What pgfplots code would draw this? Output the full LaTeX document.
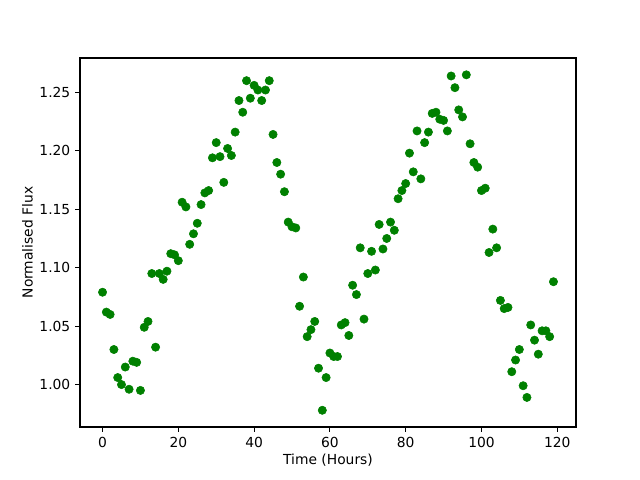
\documentclass[border=0pt]{standalone}
\usepackage{pgfplots}
\pgfplotsset{compat=1.18}
\usepackage{fontspec}
\setmainfont{DejaVu Sans}
\definecolor{mplgreen}{rgb}{0,0.5,0}
\begin{document}
\begin{tikzpicture}
\path[use as bounding box] (-0.80in,-0.53in) rectangle (5.60in,4.27in);
\begin{axis}[
  at={(0,0)}, anchor=south west,
  scale only axis, width=4.96in, height=3.69in,
  xmin=-5.95, xmax=124.95, ymin=0.9637, ymax=1.2794,
  xtick={0,20,40,60,80,100,120},
  ytick={1.00,1.05,1.10,1.15,1.20,1.25},
  yticklabel style={/pgf/number format/.cd, fixed, fixed zerofill, precision=2},
  /pgf/number format/assume math mode=true,
  tick align=outside, tick pos=left,
  major tick length=3.5pt,
  every tick/.style={black, line width=0.8pt},
  axis line style={line width=0.8pt},
  ticklabel style={font=\fontsize{10}{12}\selectfont},
  label style={font=\fontsize{10}{12}\selectfont},
  xlabel={Time (Hours)}, ylabel={Normalised Flux},
  xlabel style={yshift=2pt},
  ylabel style={yshift=-2pt},
]
\addplot[only marks, mark=*, mark size=3pt, color=mplgreen, mark options={draw=mplgreen, fill=mplgreen}] table {
x y
0 1.079
1 1.062
2 1.060
3 1.030
4 1.006
5 1.000
6 1.015
7 0.996
8 1.020
9 1.019
10 0.995
11 1.049
12 1.054
13 1.095
14 1.032
15 1.095
16 1.090
17 1.097
18 1.112
19 1.111
20 1.106
21 1.156
22 1.152
23 1.120
24 1.129
25 1.138
26 1.154
27 1.164
28 1.166
29 1.194
30 1.207
31 1.195
32 1.173
33 1.202
34 1.196
35 1.216
36 1.243
37 1.233
38 1.260
39 1.245
40 1.256
41 1.252
42 1.243
43 1.252
44 1.260
45 1.214
46 1.190
47 1.180
48 1.165
49 1.139
50 1.135
51 1.134
52 1.067
53 1.092
54 1.041
55 1.047
56 1.054
57 1.014
58 0.978
59 1.006
60 1.027
61 1.024
62 1.024
63 1.051
64 1.053
65 1.042
66 1.085
67 1.077
68 1.117
69 1.056
70 1.095
71 1.114
72 1.098
73 1.137
74 1.116
75 1.125
76 1.139
77 1.132
78 1.159
79 1.166
80 1.172
81 1.198
82 1.182
83 1.217
84 1.176
85 1.207
86 1.216
87 1.232
88 1.233
89 1.227
90 1.226
91 1.217
92 1.264
93 1.254
94 1.235
95 1.229
96 1.265
97 1.206
98 1.190
99 1.186
100 1.166
101 1.168
102 1.113
103 1.133
104 1.117
105 1.072
106 1.065
107 1.066
108 1.011
109 1.021
110 1.030
111 0.999
112 0.989
113 1.051
114 1.038
115 1.026
116 1.046
117 1.046
118 1.041
119 1.088
};
\end{axis}
\end{tikzpicture}
\end{document}
